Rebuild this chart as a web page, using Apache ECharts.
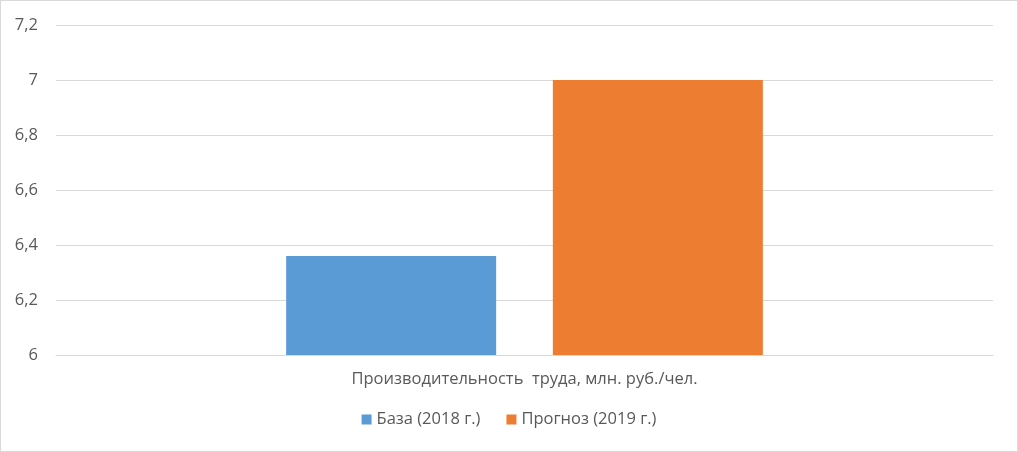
<!DOCTYPE html>
<html>
<head>
<meta charset="utf-8">
<script src="https://cdn.jsdelivr.net/npm/echarts@6/dist/echarts.min.js"></script>
<style>
  html, body { margin: 0; padding: 0; background: #fff; }
  #chart { position: absolute; left: 0; top: 0; width: 1016px; height: 450px; border: 1px solid #d9d9d9; }
</style>
</head>
<body>
<div id="chart"></div>
<script>
// данные диаграммы
const categories = ['Производительность  труда, млн. руб./чел.']
const seriesNames = ['База (2018 г.)', 'Прогноз (2019 г.)']
const baseValues = [6.36]
const forecastValues = [7.0]
const colors = ['#5B9BD5', '#ED7D31']

const font = '"Open Sans", "Noto Sans", sans-serif'
const textColor = '#595959'

let myChart = echarts.init(document.getElementById('chart'))
myChart.setOption({
    animation: false,
    textStyle: { fontFamily: font },
    grid: { left: 55, right: 24, top: 24, bottom: 96, containLabel: false },
    legend: {
        bottom: 18,
        left: 'center',
        itemWidth: 10,
        itemHeight: 10,
        itemGap: 26,
        icon: 'rect',
        textStyle: { color: textColor, fontSize: 16.5, fontFamily: font }
    },
    xAxis: {
        type: 'category',
        data: categories,
        axisLine: { lineStyle: { color: '#d9d9d9' } },
        axisTick: { show: false },
        axisLabel: { color: textColor, fontSize: 16.5, margin: 16 }
    },
    yAxis: {
        type: 'value',
        min: 6,
        max: 7.2,
        interval: 0.2,
        axisLine: { show: false },
        axisTick: { show: false },
        splitLine: { lineStyle: { color: '#d9d9d9' } },
        axisLabel: {
            color: textColor,
            fontSize: 16.5,
            margin: 18,
            formatter: v => String(+v.toFixed(1)).replace('.', ',')
        }
    },
    series: [
        { name: seriesNames[0], type: 'bar', data: baseValues, barWidth: 210, barGap: '27%', itemStyle: { color: colors[0] } },
        { name: seriesNames[1], type: 'bar', data: forecastValues, barWidth: 210, itemStyle: { color: colors[1] } }
    ]
})
</script>
</body>
</html>
